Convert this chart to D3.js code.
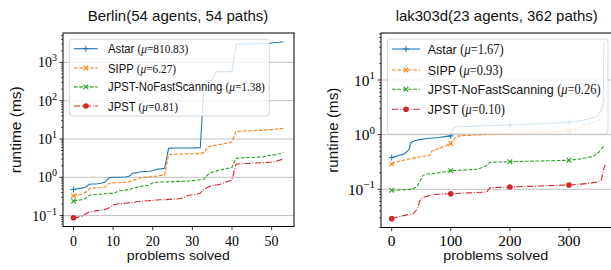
<!DOCTYPE html>
<html><head><meta charset="utf-8">
<script src="https://cdn.jsdelivr.net/npm/d3@7"></script>
<style>body{margin:0;background:#fff}svg{display:block}</style>
</head><body>
<svg id="c" width="611" height="270"></svg>
<script>
const seriesNames = ["Astar", "SIPP", "JPST-NoFastScanning", "JPST"];
const seriesColors = ["#1f77b4", "#ff7f0e", "#2ca02c", "#d62728"];
const berlinMeans = ["810.83", "6.27", "1.38", "0.81"];
const lakMeans = ["1.67", "0.93", "0.26", "0.10"];

// Berlin: 54 problems, index 0..53
const berlinAstar = [0.48,0.50,0.52,0.55,0.66,0.67,0.68,0.70,0.75,0.98,1.0,1.0,1.0,1.02,1.05,1.28,1.32,1.40,1.42,1.44,1.48,1.62,1.66,1.72,5.7,5.8,5.8,5.8,5.8,5.8,5.8,5.85,5.9,330,335,340,565,570,572,575,580,2950,3000,3020,3040,3060,3080,3090,3100,3110,3200,3300,3350,3450];
const berlinSIPP = [0.33,0.35,0.36,0.40,0.50,0.52,0.53,0.54,0.56,0.70,0.72,0.72,0.73,0.74,0.76,0.84,0.88,0.98,1.0,1.02,1.05,1.08,1.12,1.15,3.9,4.0,4.0,4.05,4.05,4.1,4.1,4.15,4.2,4.4,6.3,6.6,6.9,7.2,7.5,7.9,8.5,15.5,15.8,16,16.2,16.4,16.6,16.8,17,17.3,17.6,18,18.5,19];
const berlinNoFast = [0.24,0.25,0.26,0.28,0.34,0.35,0.36,0.36,0.37,0.38,0.38,0.42,0.45,0.46,0.48,0.52,0.55,0.58,0.60,0.62,0.72,0.74,0.75,0.75,0.76,0.77,0.78,0.78,0.79,0.80,0.82,0.84,0.86,0.90,1.2,1.35,1.45,1.55,1.65,1.72,1.8,3.1,3.2,3.25,3.3,3.3,3.35,3.4,3.45,3.7,3.8,3.9,4.1,4.5];
const berlinJPST = [0.088,0.09,0.095,0.11,0.125,0.13,0.135,0.14,0.145,0.16,0.19,0.20,0.205,0.21,0.215,0.22,0.23,0.235,0.24,0.245,0.25,0.255,0.26,0.26,0.265,0.27,0.27,0.28,0.30,0.34,0.35,0.36,0.38,0.50,0.56,0.60,0.63,0.66,0.72,0.78,0.85,2.2,2.25,2.3,2.3,2.35,2.35,2.4,2.4,2.45,2.5,2.6,2.8,3.0];

// lak303d: 362 problems, values read at the listed problem indices
const lakAstarX = [0,10,20,25,28,30,32,35,40,50,60,70,80,90,100,102,105,110,130,150,170,200,230,260,300,320,335,344,350,356,358,359,361];
const lakAstarY = [0.38,0.41,0.44,0.48,0.52,0.55,0.70,0.74,0.78,0.82,0.85,0.87,0.89,0.92,0.95,1.1,1.35,1.38,1.42,1.45,1.47,1.5,1.55,1.6,1.7,1.8,1.95,2.1,2.3,3.2,4.5,45,50];
const lakSIPPX = [0,10,20,40,60,65,68,80,95,100,105,109,120,150,195,250,300,315,324,335,347,355,358,360,361];
const lakSIPPY = [0.29,0.32,0.34,0.38,0.41,0.42,0.50,0.56,0.65,0.69,0.80,0.93,0.96,1.0,1.05,1.1,1.17,1.25,1.5,1.6,1.75,2.0,3.0,4.3,4.5];
const lakNoFastX = [0,20,35,42,48,53,60,80,100,120,140,149,160,166,180,200,250,300,320,341,348,352,356,361];
const lakNoFastY = [0.096,0.098,0.10,0.11,0.14,0.18,0.19,0.20,0.22,0.225,0.23,0.24,0.27,0.31,0.315,0.32,0.33,0.34,0.36,0.40,0.45,0.50,0.57,0.64];
const lakJPSTX = [0,20,37,44,47,50,55,70,100,130,161,166,180,200,250,300,330,347,355,358,361];
const lakJPSTY = [0.029,0.033,0.036,0.045,0.059,0.067,0.072,0.080,0.083,0.086,0.089,0.107,0.108,0.11,0.115,0.12,0.127,0.135,0.15,0.22,0.28];

const xTicksBerlin = [0, 10, 20, 30, 40, 50];
const xTicksLak = [0, 100, 200, 300];

const svg = d3.select("#c");
const SANS = "'Liberation Sans', Arial, sans-serif";
const SERIF = "'Liberation Serif', 'DejaVu Serif', serif";
const dashes = [null, "3.7,1.6", "3.7,1.6", "6.4,1.6,1,1.6"];
const markerTypes = ["plus", "x", "x", "circle"];

function squeeze(sel, target) {
  sel.attr("textLength", target).attr("lengthAdjust", "spacingAndGlyphs");
}

function drawMarker(g, type, cx, cy, color, s) {
  if (type === "circle") {
    g.append("circle").attr("cx", cx).attr("cy", cy).attr("r", 2.8*s).attr("fill", color);
  } else if (type === "plus") {
    const r = 3*s;
    g.append("path").attr("d", `M${cx-r},${cy}H${cx+r}M${cx},${cy-r}V${cy+r}`).attr("stroke", color).attr("stroke-width", 1);
  } else {
    const r = 2.3*s;
    g.append("path").attr("d", `M${cx-r},${cy-r}L${cx+r},${cy+r}M${cx-r},${cy+r}L${cx+r},${cy-r}`).attr("stroke", color).attr("stroke-width", 1.1);
  }
}

function panel(cfg, id) {
  const {x0, x1, y0, y1} = cfg.box;
  const s = cfg.scale;
  const g = svg.append("g");
  const n = cfg.nProblems;
  const x = d3.scaleLinear().domain([-0.05*(n-1), 1.05*(n-1)]).range([x0, x1]);
  const all = cfg.series.flatMap(d => d.y);
  const lmin = Math.log10(d3.min(all)), lmax = Math.log10(d3.max(all));
  const pad = 0.05*(lmax - lmin);
  const y = d3.scaleLog().domain([10**(lmin-pad), 10**(lmax+pad)]).range([y1, y0]);

  svg.append("clipPath").attr("id", "clip"+id).append("rect")
    .attr("x", x0).attr("y", y0).attr("width", x1-x0).attr("height", y1-y0);

  const majors = [];
  for (let k = Math.ceil(lmin-pad); k <= Math.floor(lmax+pad); k++) majors.push(k);
  g.selectAll(".grid").data(majors).enter().append("line")
    .attr("x1", x0).attr("x2", x1).attr("y1", k => y(10**k)).attr("y2", k => y(10**k))
    .attr("stroke", "#b0b0b0").attr("stroke-width", 0.8);

  const lg = g.append("g").attr("clip-path", `url(#clip${id})`);
  const line = d3.line().x(d => x(d[0])).y(d => y(d[1]));
  cfg.series.forEach((sr, i) => {
    const pts = sr.x.map((xv, j) => [xv, sr.y[j]]);
    lg.append("path").attr("d", line(pts)).attr("fill", "none")
      .attr("stroke", seriesColors[i]).attr("stroke-width", 1.1)
      .attr("stroke-dasharray", dashes[i]);
    pts.filter(p => p[0] % 100 === 0).forEach(p => drawMarker(lg, markerTypes[i], x(p[0]), y(p[1]), seriesColors[i], 1));
  });

  const minors = [];
  const dmin = 10**(lmin-pad), dmax = 10**(lmax+pad);
  for (let k = Math.floor(lmin-pad); k <= Math.ceil(lmax+pad); k++)
    for (let m = 2; m <= 9; m++) { const v = m*10**k; if (v >= dmin && v <= dmax) minors.push(v); }
  g.selectAll(".ymin").data(minors).enter().append("line")
    .attr("x1", x0-2).attr("x2", x0).attr("y1", d => y(d)).attr("y2", d => y(d))
    .attr("stroke", "#000").attr("stroke-width", 0.6);
  g.selectAll(".ymaj").data(majors).enter().append("line")
    .attr("x1", x0-3.5).attr("x2", x0).attr("y1", k => y(10**k)).attr("y2", k => y(10**k))
    .attr("stroke", "#000").attr("stroke-width", 0.8);
  majors.forEach(k => {
    const t = g.append("text").attr("x", x0-6).attr("y", y(10**k) + 5*s)
      .attr("text-anchor", "end").attr("font-family", SERIF).attr("font-size", 14*s).attr("fill", "#000");
    t.append("tspan").text("10");
    t.append("tspan").attr("dy", -6*s).attr("font-size", 10*s).text(k < 0 ? "\u2212" + (-k) : String(k));
  });

  g.selectAll(".xt").data(cfg.xTicks).enter().append("line")
    .attr("x1", d => x(d)).attr("x2", d => x(d)).attr("y1", y1).attr("y2", y1+3.5)
    .attr("stroke", "#000").attr("stroke-width", 0.8);
  g.selectAll(".xl").data(cfg.xTicks).enter().append("text")
    .attr("x", d => x(d)).attr("y", 245.5).attr("text-anchor", "middle")
    .attr("font-family", SERIF).attr("font-size", 14*s).text(d => d);

  const L = cfg.legend;
  g.append("rect").attr("x", L.x0).attr("y", L.y0).attr("width", L.x1-L.x0).attr("height", L.y1-L.y0)
    .attr("rx", 3).attr("fill", "rgba(255,255,255,0.8)").attr("stroke", "#cccccc").attr("stroke-width", 0.8);
  const rows = [];
  cfg.series.forEach((sr, i) => {
    const ry = L.rows[i];
    g.append("line").attr("x1", L.hx0).attr("x2", L.hx1).attr("y1", ry).attr("y2", ry)
      .attr("stroke", seriesColors[i]).attr("stroke-width", 1.1).attr("stroke-dasharray", dashes[i]);
    drawMarker(g, markerTypes[i], (L.hx0+L.hx1)/2, ry, seriesColors[i], 1);
    const rg = g.append("g");
    const t = rg.append("text").attr("x", 0).attr("y", 0).attr("dy", "0.36em")
      .attr("font-family", SANS).attr("font-size", L.fs).attr("fill", "#111");
    t.append("tspan").text(seriesNames[i] + " ");
    t.append("tspan").attr("font-family", SERIF).text("(");
    t.append("tspan").attr("font-family", SERIF).attr("font-style", "italic").text("\u03bc");
    t.append("tspan").attr("font-family", SERIF).text("=" + cfg.means[i] + ")");
    rows.push({rg, t, ry});
  });
  const sx = L.textW / rows[2].t.node().getComputedTextLength();
  rows.forEach(r => r.rg.attr("transform", `translate(${L.tx},${r.ry}) scale(${sx},1)`));

  g.append("rect").attr("x", x0).attr("y", y0).attr("width", x1-x0).attr("height", y1-y0)
    .attr("fill", "none").attr("stroke", "#000").attr("stroke-width", 1);

  const title = g.append("text").attr("x", cfg.titleX).attr("y", 20.5).attr("text-anchor", "middle")
    .attr("font-family", SANS).attr("font-size", 14.5).attr("fill", "#111").text(cfg.title);
  squeeze(title, cfg.titleW);
  const xl = g.append("text").attr("x", cfg.xlabelX).attr("y", 260).attr("text-anchor", "middle")
    .attr("font-family", SANS).attr("font-size", 13.5).attr("fill", "#111").text("problems solved");
  squeeze(xl, cfg.xlabelW);
  const yl = g.append("text").attr("transform", `translate(${cfg.ylabelX},${(y0+y1)/2}) rotate(-90)`)
    .attr("text-anchor", "middle").attr("font-family", SANS).attr("font-size", 14).attr("fill", "#111").text("runtime (ms)");
  squeeze(yl, cfg.ylabelW);
}

const berlinX = d3.range(berlinAstar.length);
panel({
  box: {x0: 63, x1: 294, y0: 33, y1: 226.5}, scale: 1, nProblems: 54,
  series: [
    {x: berlinX, y: berlinAstar}, {x: berlinX, y: berlinSIPP},
    {x: berlinX, y: berlinNoFast}, {x: berlinX, y: berlinJPST}],
  means: berlinMeans, xTicks: xTicksBerlin,
  legend: {x0: 69.3, x1: 269.3, y0: 39.3, y1: 116, rows: [48.7, 68, 86.9, 106], hx0: 74, hx1: 97.7, tx: 108, fs: 12.5, textW: 157},
  title: "Berlin(54 agents, 54 paths)", titleX: 178, titleW: 180.6,
  xlabelX: 178.3, xlabelW: 103, ylabelX: 21, ylabelW: 87
}, 0);

panel({
  box: {x0: 381, x1: 615.7, y0: 33, y1: 227.5}, scale: 1.1, nProblems: 362,
  series: [
    {x: lakAstarX, y: lakAstarY}, {x: lakSIPPX, y: lakSIPPY},
    {x: lakNoFastX, y: lakNoFastY}, {x: lakJPSTX, y: lakJPSTY}],
  means: lakMeans, xTicks: xTicksLak,
  legend: {x0: 387.3, x1: 608, y0: 39, y1: 134, rows: [49, 70, 89.3, 109.3], hx0: 392, hx1: 420, tx: 427.7, fs: 13.6, textW: 173},
  title: "lak303d(23 agents, 362 paths)", titleX: 496.7, titleW: 202,
  xlabelX: 495.8, xlabelW: 105, ylabelX: 338, ylabelW: 85
}, 1);
</script>
</body></html>
